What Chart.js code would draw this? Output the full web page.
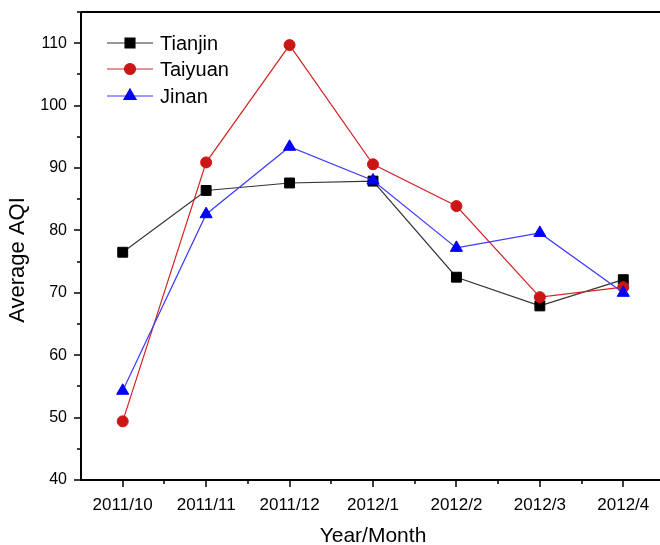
<!DOCTYPE html>
<html>
<head>
<meta charset="utf-8">
<script src="https://cdn.jsdelivr.net/npm/chart.js@4.4.1/dist/chart.umd.min.js"></script>
<style>
    html, body { margin: 0; padding: 0; background: #fff; overflow: hidden; }
    #wrap { width: 673px; height: 545px; }
</style>
</head>
<body>
<div id="wrap"><canvas id="aqiChart" width="673" height="545"></canvas></div>
<script>
// Дані графіка
const months = ['2011/10', '2011/11', '2011/12', '2012/1', '2012/2', '2012/3', '2012/4'];
const tianjin = [76.5, 86.4, 87.6, 87.9, 72.5, 67.9, 72.1];
const taiyuan = [49.4, 90.9, 109.7, 90.6, 83.9, 69.3, 70.9];
const jinan = [54.3, 82.6, 93.4, 88.0, 77.2, 79.6, 70.0];

const yMin = 40;
const yMax = 115;

const FONT = '"Liberation Sans", Arial, sans-serif';

// Рамка, засічки, підпис осі Y та легенда
const framePlugin = {
    id: 'frame',
    afterDraw(chart) {
        const { ctx, chartArea } = chart;
        const xs = chart.scales.x;
        const ys = chart.scales.y;
        ctx.save();
        ctx.strokeStyle = '#000';
        ctx.lineWidth = 2;
        ctx.beginPath();
        ctx.moveTo(chartArea.left, chartArea.top);
        ctx.lineTo(chartArea.right, chartArea.top);
        ctx.moveTo(chartArea.left, chartArea.top);
        ctx.lineTo(chartArea.left, chartArea.bottom);
        ctx.lineTo(chartArea.right, chartArea.bottom);
        ctx.stroke();

        ctx.lineWidth = 1.5;
        ctx.beginPath();
        // y засічки
        for (let v = yMin; v <= yMax; v += 5) {
            const py = Math.round(ys.getPixelForValue(v));
            const len = v % 10 === 0 ? 7 : 4;
            ctx.moveTo(chartArea.left, py);
            ctx.lineTo(chartArea.left - len, py);
        }
        // x засічки
        for (let i = 0; i < months.length; i++) {
            const px = Math.round(xs.getPixelForTick(i));
            ctx.moveTo(px, chartArea.bottom);
            ctx.lineTo(px, chartArea.bottom + 7);
            if (i < months.length - 1) {
                const mid = Math.round((xs.getPixelForTick(i) + xs.getPixelForTick(i + 1)) / 2);
                ctx.moveTo(mid, chartArea.bottom);
                ctx.lineTo(mid, chartArea.bottom + 4);
            }
        }
        ctx.stroke();

        // підпис осі Y
        ctx.save();
        ctx.translate(18, 260);
        ctx.rotate(-Math.PI / 2);
        ctx.fillStyle = '#000';
        ctx.font = '22px ' + FONT;
        ctx.textAlign = 'center';
        ctx.textBaseline = 'middle';
        ctx.fillText('Average AQI', 0, 0);
        ctx.restore();

        // легенда
        const rows = [43, 69, 96];
        chart.data.datasets.forEach((ds, i) => {
            const y = rows[i];
            ctx.strokeStyle = ds.borderColor;
            ctx.lineWidth = 1.2;
            ctx.beginPath();
            ctx.moveTo(107, y);
            ctx.lineTo(153, y);
            ctx.stroke();
            ctx.fillStyle = ds.pointBackgroundColor;
            ctx.strokeStyle = ds.pointBorderColor;
            Chart.helpers.drawPoint(ctx, {
                pointStyle: ds.pointStyle,
                radius: ds.pointRadius,
                borderWidth: 1,
                rotation: 0
            }, 130, y);
            ctx.fillStyle = '#000';
            ctx.font = '20px ' + FONT;
            ctx.textBaseline = 'middle';
            ctx.textAlign = 'left';
            ctx.fillText(ds.label, 160, y + 1);
        });
        ctx.restore();
    }
};

function noPad(scale) {
    scale.paddingTop = 0;
    scale.paddingBottom = 0;
    scale.paddingLeft = 0;
    scale.paddingRight = 0;
}

new Chart(document.getElementById('aqiChart'), {
    type: 'line',
    data: {
        labels: months,
        datasets: [{
            label: 'Tianjin',
            data: tianjin,
            borderColor: '#333333',
            borderWidth: 1.2,
            pointStyle: 'rect',
            pointRadius: 7,
            pointBackgroundColor: '#000000',
            pointBorderColor: '#000000',
            pointBorderWidth: 1,
            order: 3
        }, {
            label: 'Taiyuan',
            data: taiyuan,
            borderColor: '#d42424',
            borderWidth: 1.2,
            pointStyle: 'circle',
            pointRadius: 5.5,
            pointBackgroundColor: '#cc1515',
            pointBorderColor: '#cc1515',
            pointBorderWidth: 1,
            order: 2
        }, {
            label: 'Jinan',
            data: jinan,
            borderColor: '#3a3aff',
            borderWidth: 1.2,
            pointStyle: 'triangle',
            pointRadius: 7,
            pointBackgroundColor: '#0000ff',
            pointBorderColor: '#0000ff',
            pointBorderWidth: 1,
            order: 1
        }]
    },
    options: {
        responsive: false,
        animation: false,
        events: [],
        layout: {
            padding: { top: 12, right: 1, left: 0, bottom: 0 }
        },
        plugins: {
            legend: { display: false },
            tooltip: { enabled: false }
        },
        scales: {
            x: {
                type: 'category',
                offset: true,
                grid: { display: false, drawTicks: false },
                border: { display: false },
                ticks: {
                    color: '#000',
                    padding: 15,
                    maxRotation: 0,
                    autoSkip: false,
                    font: { family: FONT, size: 17 }
                },
                title: {
                    display: true,
                    text: 'Year/Month',
                    color: '#000',
                    padding: { top: 0, bottom: -4 },
                    font: { family: FONT, size: 21 }
                },
                afterFit(scale) {
                    scale.height = 65;
                    noPad(scale);
                }
            },
            y: {
                min: yMin,
                max: yMax,
                grid: { display: false, drawTicks: false },
                border: { display: false },
                ticks: {
                    stepSize: 5,
                    color: '#000',
                    padding: 14,
                    font: { family: FONT, size: 16 },
                    callback: (v) => (v % 10 === 0 ? v : '')
                },
                afterFit(scale) {
                    scale.width = 81;
                    noPad(scale);
                }
            }
        }
    },
    plugins: [framePlugin]
});
</script>
</body>
</html>
